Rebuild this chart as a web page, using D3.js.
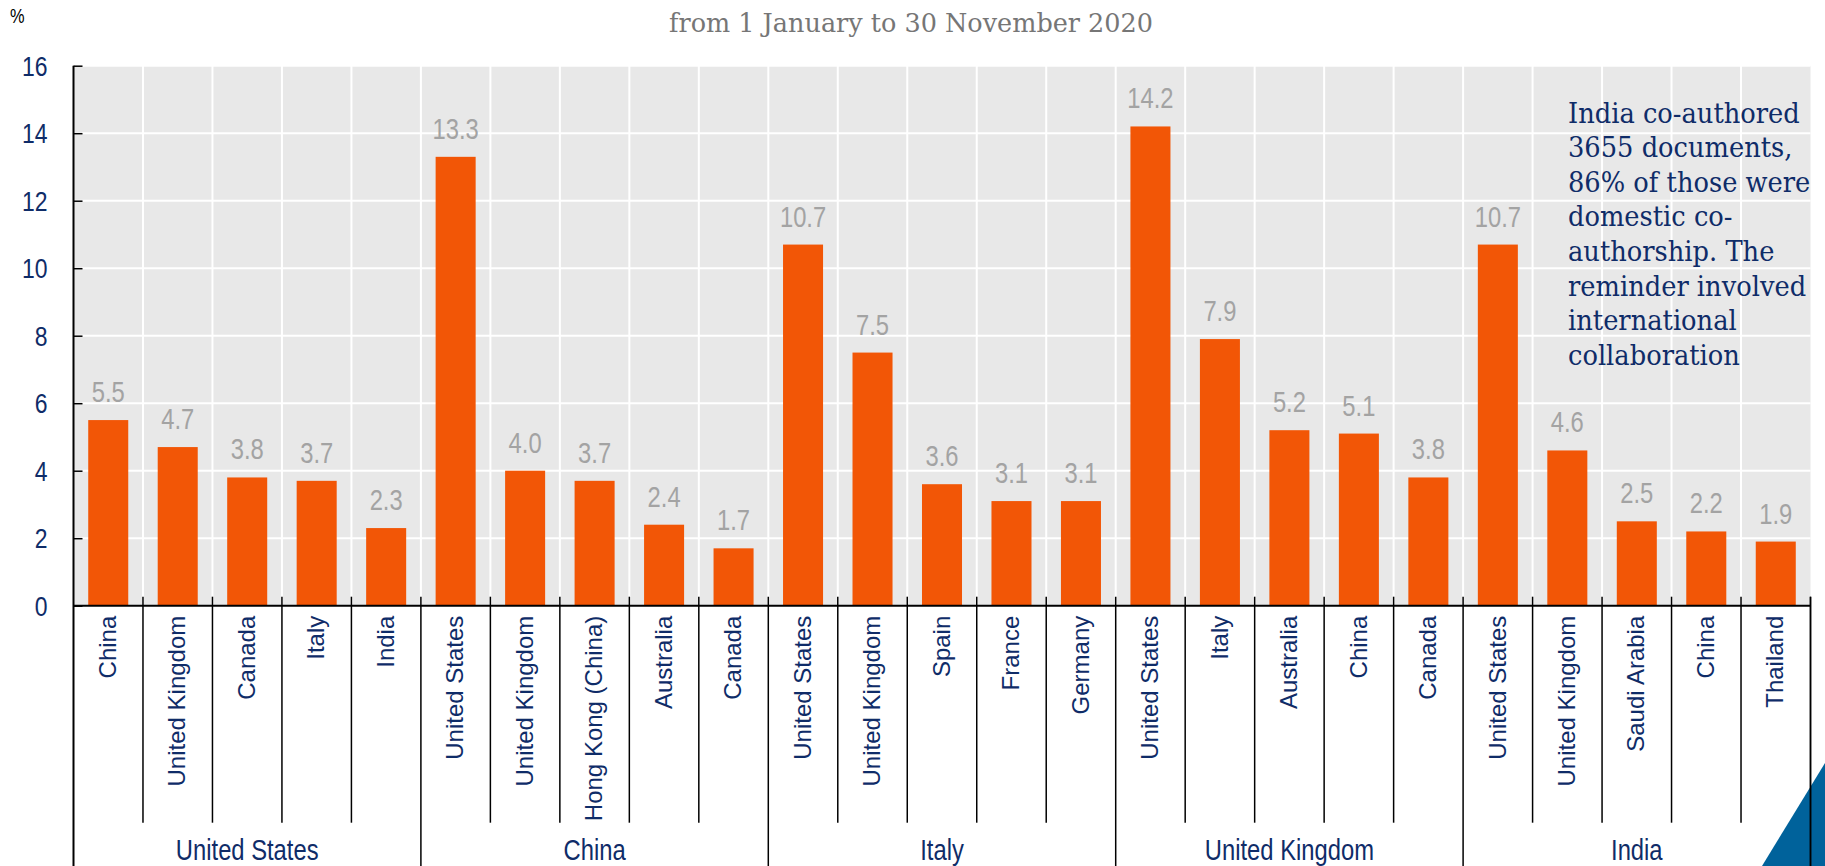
<!DOCTYPE html>
<html>
<head>
<meta charset="utf-8">
<script src="https://cdn.jsdelivr.net/npm/d3@7"></script>
<style>
  body { margin: 0; background: #fff; }
</style>
</head>
<body>
<div id="chart"></div>
<script>
// host countries and their top five co-authoring partners (% of documents)
const groups = ["United States", "China", "Italy", "United Kingdom", "India"];
const partners = [
  ["China", "United Kingdom", "Canada", "Italy", "India"],
  ["United States", "United Kingdom", "Hong Kong (China)", "Australia", "Canada"],
  ["United States", "United Kingdom", "Spain", "France", "Germany"],
  ["United States", "Italy", "Australia", "China", "Canada"],
  ["United States", "United Kingdom", "Saudi Arabia", "China", "Thailand"]
];
const shares = [
  [5.5, 4.7, 3.8, 3.7, 2.3],
  [13.3, 4.0, 3.7, 2.4, 1.7],
  [10.7, 7.5, 3.6, 3.1, 3.1],
  [14.2, 7.9, 5.2, 5.1, 3.8],
  [10.7, 4.6, 2.5, 2.2, 1.9]
];
const yTicks = [0, 2, 4, 6, 8, 10, 12, 14, 16];
const subtitle = "from 1 January to 30 November 2020";
const note = [
  "India co-authored",
  "3655 documents,",
  "86% of those were",
  "domestic co-",
  "authorship. The",
  "reminder involved",
  "international",
  "collaboration"
];

const width = 1825, height = 866;
const margin = {left: 73.5, right: 1810.5, top: 65.7, bottom: 605.7};
const navy = "#0f2c68", orange = "#f25606", grid = "#e8e8e8";
const sans = "'Liberation Sans', Arial, sans-serif";
const serif = "'DejaVu Serif', Georgia, serif";
const narrowX = 0.82;

// one row per bar
const bars = [];
groups.forEach(function(g, i) {
  partners[i].forEach(function(p, j) {
    bars.push({ group: g, gi: i, partner: p, value: shares[i][j], key: i + "-" + j });
  });
});

const svg = d3.select("#chart").append("svg")
  .attr("width", width)
  .attr("height", height);

const x = d3.scaleBand()
  .domain(bars.map(d => d.key))
  .range([margin.left, margin.right])
  .paddingInner(0.424)
  .paddingOuter(0.212);

const y = d3.scaleLinear()
  .domain([0, 16])
  .range([margin.bottom, margin.top]);

// band edges (between bars)
const half = x.step() * x.paddingInner() / 2;
const edges = bars.map(d => x(d.key) - half).concat([margin.right]);
const groupEdges = edges.filter((e, i) => i % 5 === 0);

// plot background + white grid
svg.append("rect")
  .attr("x", margin.left).attr("y", margin.top)
  .attr("width", margin.right - margin.left).attr("height", margin.bottom - margin.top)
  .attr("fill", grid);

svg.append("g").selectAll("line")
  .data(yTicks.slice(1))
  .join("line")
  .attr("x1", margin.left).attr("x2", margin.right)
  .attr("y1", d => y(d)).attr("y2", d => y(d))
  .attr("stroke", "#fff").attr("stroke-width", 2);

svg.append("g").selectAll("line")
  .data(edges.slice(1, -1))
  .join("line")
  .attr("x1", d => d).attr("x2", d => d)
  .attr("y1", margin.top).attr("y2", margin.bottom)
  .attr("stroke", "#fff").attr("stroke-width", 2);

// bars
svg.append("g").selectAll("rect")
  .data(bars)
  .join("rect")
  .attr("x", d => x(d.key))
  .attr("y", d => y(d.value))
  .attr("width", x.bandwidth())
  .attr("height", d => y(0) - y(d.value))
  .attr("fill", orange);

// value labels
svg.append("g").selectAll("text")
  .data(bars)
  .join("text")
  .attr("transform", d => "translate(" + (x(d.key) + x.bandwidth() / 2) + "," + (y(d.value) - 18) + ") scale(" + narrowX + ",1)")
  .attr("text-anchor", "middle")
  .attr("font-family", sans)
  .attr("font-size", 29)
  .attr("fill", "#a3a3a3")
  .text(d => d3.format(".1f")(d.value));

// corner decoration
svg.append("path")
  .attr("d", d3.line()([[1762, 866], [1825, 763], [1825, 866]]) + "Z")
  .attr("fill", "#00629b");

// y axis
const yAxis = svg.append("g")
  .attr("transform", "translate(" + margin.left + ",0)")
  .call(d3.axisLeft(y).tickValues(yTicks).tickSize(-9).tickSizeOuter(0).tickPadding(26));
yAxis.select(".domain").remove();
yAxis.selectAll(".tick line").attr("stroke", "#000").attr("stroke-width", 1.5);
yAxis.selectAll(".tick text")
  .attr("x", null)
  .attr("transform", "translate(-26,0) scale(" + narrowX + ",1)")
  .attr("dy", "0.34em")
  .attr("font-family", sans)
  .attr("font-size", 28)
  .attr("fill", navy);

// x axis: partner labels rotated
const xAxis = svg.append("g")
  .attr("transform", "translate(0," + margin.bottom + ")")
  .call(d3.axisBottom(x).tickSize(0).tickFormat((k, i) => bars[i].partner));
xAxis.select(".domain").remove();
xAxis.selectAll(".tick text")
  .attr("transform", "rotate(-90)")
  .attr("x", -10)
  .attr("y", 0)
  .attr("dy", "0.32em")
  .attr("text-anchor", "end")
  .attr("font-family", sans)
  .attr("font-size", 24)
  .attr("fill", navy);

// axis lines and separators
svg.append("g").selectAll("line")
  .data(edges.slice(1).filter((e, i) => (i + 1) % 5 !== 0))
  .join("line")
  .attr("x1", d => d).attr("x2", d => d)
  .attr("y1", margin.bottom - 9).attr("y2", 822.7)
  .attr("stroke", "#000").attr("stroke-width", 1.5);

svg.append("g").selectAll("line")
  .data(groupEdges.slice(1).concat([margin.right]))
  .join("line")
  .attr("x1", d => d).attr("x2", d => d)
  .attr("y1", margin.bottom - 9).attr("y2", height)
  .attr("stroke", "#000").attr("stroke-width", 1.5);

svg.append("line")
  .attr("x1", margin.left).attr("x2", margin.left)
  .attr("y1", margin.top).attr("y2", height)
  .attr("stroke", "#000").attr("stroke-width", 2);

svg.append("line")
  .attr("x1", margin.left).attr("x2", margin.right)
  .attr("y1", margin.bottom).attr("y2", margin.bottom)
  .attr("stroke", "#000").attr("stroke-width", 2);

// group labels
svg.append("g").selectAll("text")
  .data(groups)
  .join("text")
  .attr("transform", (g, i) => {
    const first = x(i + "-0"), last = x(i + "-4") + x.bandwidth();
    return "translate(" + ((first + last) / 2) + ",860) scale(" + narrowX + ",1)";
  })
  .attr("text-anchor", "middle")
  .attr("font-family", sans)
  .attr("font-size", 29)
  .attr("fill", navy)
  .text(d => d);

// unit
svg.append("text")
  .attr("transform", "translate(10,23) scale(" + narrowX + ",1)")
  .attr("font-family", sans)
  .attr("font-size", 20)
  .attr("fill", "#000")
  .text("%");

// subtitle
const sub = svg.append("text")
  .attr("font-family", serif)
  .attr("font-size", 26)
  .attr("fill", "#767676")
  .attr("text-anchor", "middle")
  .text(subtitle);
const subW = sub.node().getComputedTextLength();
sub.attr("transform", "translate(911,31.5) scale(" + (484 / subW) + ",1)");

// annotation
const noteG = svg.append("g");
const noteText = noteG.selectAll("text")
  .data(note)
  .join("text")
  .attr("x", 0)
  .attr("y", (d, i) => 122.7 + i * 34.6)
  .attr("font-family", serif)
  .attr("font-size", 28)
  .attr("fill", navy)
  .text(d => d);
const firstW = noteText.node().getComputedTextLength();
noteG.attr("transform", "translate(1568,0) scale(" + (232 / firstW) + ",1)");
</script>
</body>
</html>
